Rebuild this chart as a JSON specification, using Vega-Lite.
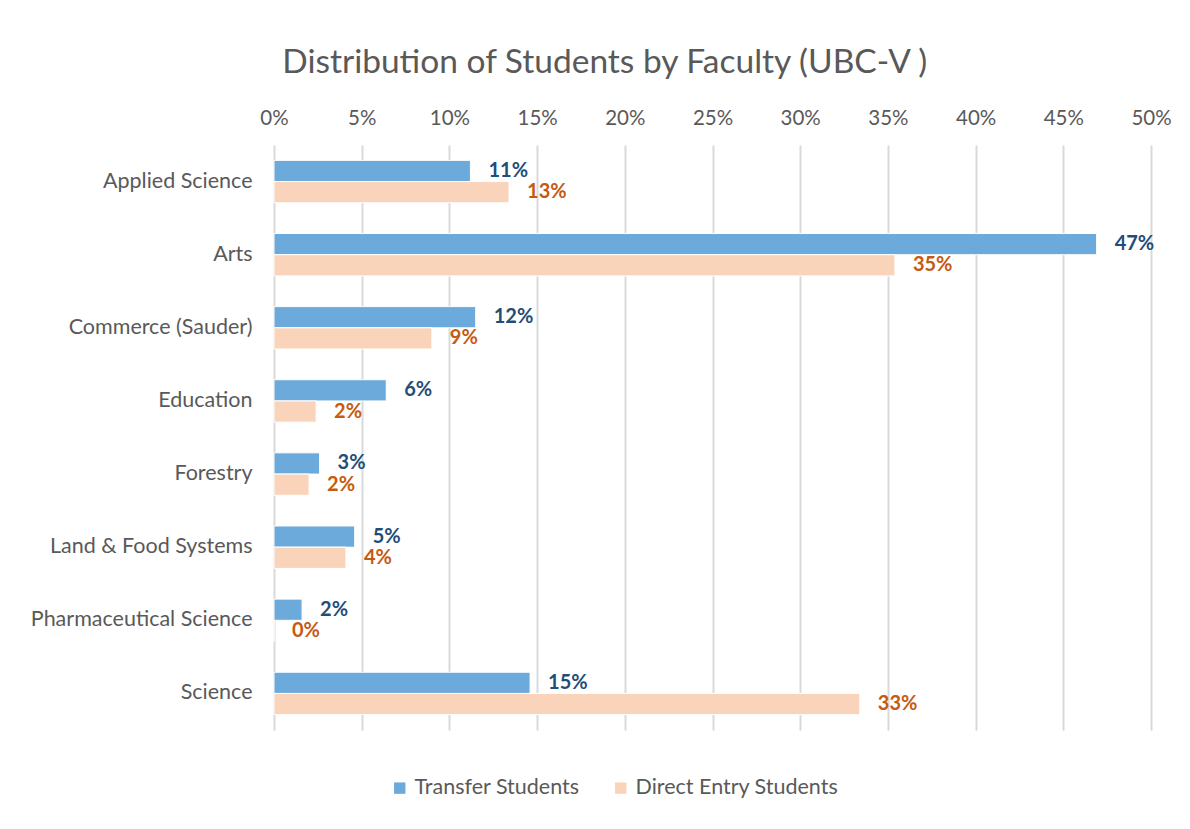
{
  "$schema": "https://vega.github.io/schema/vega-lite/v6.json",
  "width": 877,
  "height": 585,
  "autosize": {"type": "none"},
  "padding": {"left": 274, "top": 145, "right": 39, "bottom": 99},
  "background": "white",
  "title": {
    "text": "Distribution of Students by Faculty (UBC-V )",
    "anchor": "middle",
    "frame": "bounds",
    "font": "Lato",
    "fontSize": 33.5,
    "fontWeight": "normal",
    "color": "#595959",
    "offset": 28,
    "dx": 4
  },
  "data": {
    "values": [
      {"faculty": "Applied Science", "series": "Transfer Students", "value": 0.112},
      {"faculty": "Applied Science", "series": "Direct Entry Students", "value": 0.134},
      {"faculty": "Arts", "series": "Transfer Students", "value": 0.469},
      {"faculty": "Arts", "series": "Direct Entry Students", "value": 0.354},
      {"faculty": "Commerce (Sauder)", "series": "Transfer Students", "value": 0.115},
      {"faculty": "Commerce (Sauder)", "series": "Direct Entry Students", "value": 0.090},
      {"faculty": "Education", "series": "Transfer Students", "value": 0.064},
      {"faculty": "Education", "series": "Direct Entry Students", "value": 0.024},
      {"faculty": "Forestry", "series": "Transfer Students", "value": 0.026},
      {"faculty": "Forestry", "series": "Direct Entry Students", "value": 0.020},
      {"faculty": "Land & Food Systems", "series": "Transfer Students", "value": 0.046},
      {"faculty": "Land & Food Systems", "series": "Direct Entry Students", "value": 0.041},
      {"faculty": "Pharmaceutical Science", "series": "Transfer Students", "value": 0.016},
      {"faculty": "Pharmaceutical Science", "series": "Direct Entry Students", "value": 0.0},
      {"faculty": "Science", "series": "Transfer Students", "value": 0.146},
      {"faculty": "Science", "series": "Direct Entry Students", "value": 0.334}
    ]
  },
  "encoding": {
    "y": {
      "field": "faculty",
      "type": "nominal",
      "sort": null,
      "title": null,
      "scale": {"paddingInner": 0.42, "paddingOuter": 0.21},
      "axis": {
        "ticks": false,
        "domain": false,
        "labelFont": "Lato",
        "labelFontSize": 21.5,
        "labelColor": "#595959",
        "labelPadding": 22,
        "labelLimit": 400
      }
    },
    "yOffset": {
      "field": "series",
      "type": "nominal",
      "sort": ["Transfer Students", "Direct Entry Students"]
    },
    "x": {
      "field": "value",
      "type": "quantitative",
      "title": null,
      "scale": {"domain": [0, 0.5], "nice": false},
      "axis": {
        "orient": "top",
        "format": ".0%",
        "values": [0, 0.05, 0.1, 0.15, 0.2, 0.25, 0.3, 0.35, 0.4, 0.45, 0.5],
        "ticks": false,
        "domain": false,
        "grid": true,
        "gridColor": "#D9D9D9",
        "gridWidth": 2,
        "labelFlush": false,
        "labelFont": "Lato",
        "labelFontSize": 20.5,
        "labelColor": "#595959",
        "labelPadding": 17
      }
    }
  },
  "layer": [
    {
      "mark": {"type": "bar", "stroke": "white", "strokeWidth": 1},
      "encoding": {
        "color": {
          "field": "series",
          "type": "nominal",
          "title": null,
          "scale": {
            "domain": ["Transfer Students", "Direct Entry Students"],
            "range": ["#6CAADB", "#F9D4BB"]
          },
          "legend": {
            "orient": "none",
            "legendX": 115,
            "legendY": 632,
            "direction": "horizontal",
            "symbolType": "square",
            "symbolSize": 130,
            "symbolStrokeWidth": 0,
            "labelFont": "Lato",
            "labelFontSize": 21.5,
            "labelColor": "#595959",
            "labelOffset": 4,
            "labelLimit": 400,
            "columnPadding": 30
          }
        }
      }
    },
    {
      "mark": {
        "type": "text",
        "align": "left",
        "baseline": "middle",
        "dx": 18,
        "font": "Lato",
        "fontSize": 20,
        "fontWeight": "bold"
      },
      "encoding": {
        "text": {"field": "value", "type": "quantitative", "format": ".0%"},
        "color": {
          "condition": {"test": "datum.series === 'Transfer Students'", "value": "#1F4E79"},
          "value": "#C55A11"
        }
      }
    }
  ],
  "config": {
    "view": {"stroke": null}
  }
}
